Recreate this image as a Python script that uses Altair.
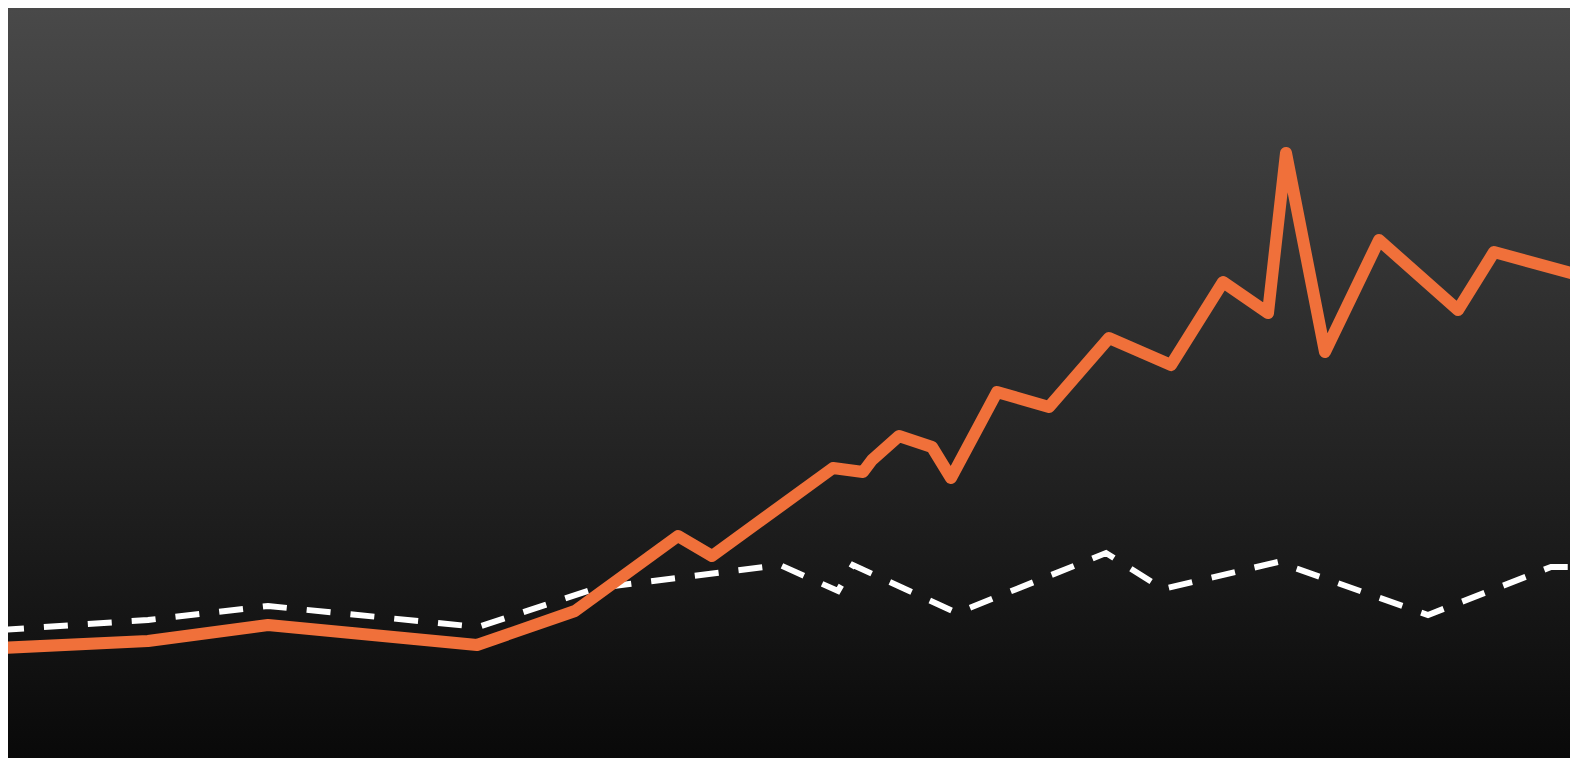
import altair as alt
import pandas as pd

W, H = 1562, 750

# series (x = time position, y = value)
orange_x = [0, 148, 268, 477, 575, 678, 712, 833, 863, 872, 899, 932, 951, 997,
            1049, 1109, 1171, 1223, 1268, 1286, 1325, 1379, 1458, 1494, 1578]
orange_y = [123, 130, 146, 126, 160, 235, 215, 303, 299, 311, 335, 324, 293, 379,
            364, 433, 406, 489, 458, 618, 419, 531, 461, 519, 496]

white_x = [0, 148, 268, 478, 597, 780, 838, 853, 957, 1106, 1163, 1278, 1428, 1551, 1578]
white_y = [141, 151, 165, 144, 183, 206, 180, 206, 158, 218, 182, 209, 156, 204, 204]

orange_df = pd.DataFrame({"t": orange_x, "v": orange_y})
white_df = pd.DataFrame({"t": white_x, "v": white_y})

xs = alt.Scale(domain=[8, 8 + W], nice=False, zero=False)
ys = alt.Scale(domain=[763 - H, 763], nice=False, zero=False)

bg = alt.Chart(pd.DataFrame({"a": [0]})).mark_rect(
    color=alt.LinearGradient(
        gradient="linear",
        stops=[alt.GradientStop(color="#494949", offset=0),
               alt.GradientStop(color="#090909", offset=1)],
        x1=0, x2=0, y1=0, y2=1,
    )
).encode(x=alt.value(0), x2=alt.value(W), y=alt.value(0), y2=alt.value(H))

white = alt.Chart(white_df).mark_line(
    color="#ffffff", strokeWidth=6, strokeDash=[24, 20], strokeCap="butt",
    strokeJoin="miter", clip=True
).encode(
    x=alt.X("t:Q", scale=xs, axis=None),
    y=alt.Y("v:Q", scale=ys, axis=None),
    order="t:Q",
)

orange = alt.Chart(orange_df).mark_line(
    color="#f0703a", strokeWidth=12, strokeCap="round", strokeJoin="round", clip=True
).encode(
    x=alt.X("t:Q", scale=xs, axis=None),
    y=alt.Y("v:Q", scale=ys, axis=None),
    order="t:Q",
)

chart = alt.layer(bg, white, orange).properties(
    width=W, height=H, padding=0, background="#0a0a0a"
).configure_view(stroke=None)

chart.save("out.html", embed_options={"renderer": "svg", "actions": False})
